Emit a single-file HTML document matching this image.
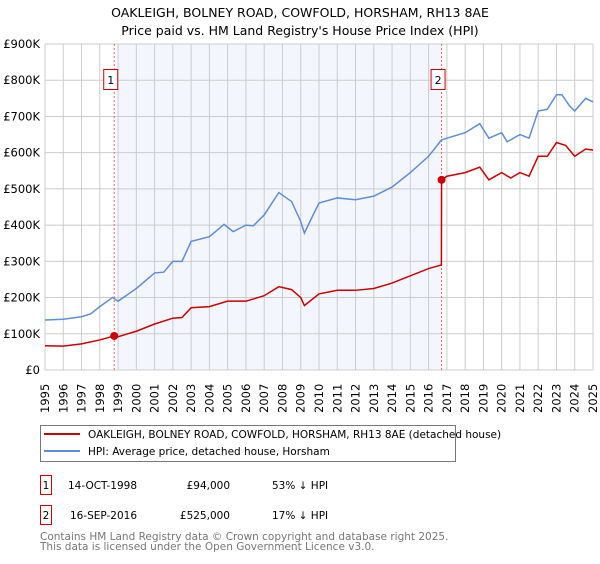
<!DOCTYPE html>
<html><head><meta charset="utf-8"><style>
body{margin:0;background:#fff;font-family:"DejaVu Sans","Liberation Sans",sans-serif;}
</style></head><body>
<svg id="chart" width="600" height="560" xmlns="http://www.w3.org/2000/svg" font-family="DejaVu Sans, Liberation Sans, sans-serif">
<text x="300" y="17" text-anchor="middle" font-size="12.5">OAKLEIGH, BOLNEY ROAD, COWFOLD, HORSHAM, RH13 8AE</text>
<text x="300" y="35" text-anchor="middle" font-size="12.5">Price paid vs. HM Land Registry's House Price Index (HPI)</text>
<g id="plot"></g>
<g>
<rect x="40.5" y="425.5" width="415" height="36" fill="#fff" stroke="#777"/>
<line x1="44" y1="434" x2="80" y2="434" stroke="#cc0000" stroke-width="2"/>
<text x="88" y="438" font-size="10.5">OAKLEIGH, BOLNEY ROAD, COWFOLD, HORSHAM, RH13 8AE (detached house)</text>
<line x1="44" y1="451" x2="80" y2="451" stroke="#5b8fd6" stroke-width="2"/>
<text x="88" y="455" font-size="10.5">HPI: Average price, detached house, Horsham</text>
</g>
<g font-size="10.5">
<rect x="40.5" y="475.5" width="11" height="19" fill="#fff" stroke="#cc0000"/>
<text x="46" y="489" text-anchor="middle">1</text>
<text x="137" y="489" text-anchor="end">14-OCT-1998</text>
<text x="230" y="489" text-anchor="end">£94,000</text>
<text x="272" y="489">53% ↓ HPI</text>
<rect x="40.5" y="505.5" width="11" height="19" fill="#fff" stroke="#cc0000"/>
<text x="46" y="519" text-anchor="middle">2</text>
<text x="137" y="519" text-anchor="end">16-SEP-2016</text>
<text x="230" y="519" text-anchor="end">£525,000</text>
<text x="272" y="519">17% ↓ HPI</text>
</g>
<g font-size="10.5" fill="#777">
<text x="40" y="540">Contains HM Land Registry data © Crown copyright and database right 2025.</text>
<text x="40" y="550">This data is licensed under the Open Government Licence v3.0.</text>
</g>
</svg>
<script>
const yTicks=[0,100000,200000,300000,400000,500000,600000,700000,800000,900000];
const yTickLabels=["£0","£100K","£200K","£300K","£400K","£500K","£600K","£700K","£800K","£900K"];
const years=[1995,1996,1997,1998,1999,2000,2001,2002,2003,2004,2005,2006,2007,2008,2009,2010,2011,2012,2013,2014,2015,2016,2017,2018,2019,2020,2021,2022,2023,2024,2025];
const hpiT=[1995,1996,1997,1997.5,1998,1998.7,1999,2000,2001,2001.5,2002,2002.5,2003,2004,2004.8,2005.3,2006,2006.4,2007,2007.8,2008.5,2009,2009.2,2009.6,2010,2011,2012,2013,2014,2015,2016,2016.7,2017,2018,2018.8,2019.3,2020,2020.3,2021,2021.5,2022,2022.5,2023,2023.3,2023.7,2024,2024.6,2025];
const hpiV=[138000,140000,147000,155000,175000,200000,190000,225000,268000,270000,300000,300000,355000,368000,402000,382000,400000,398000,428000,490000,465000,410000,378000,420000,461000,475000,470000,480000,505000,545000,590000,635000,640000,655000,680000,640000,655000,630000,650000,640000,715000,720000,760000,760000,730000,715000,750000,740000];
const ppT=[1995,1996,1997,1998,1998.79,1999,2000,2001,2002,2002.5,2003,2004,2005,2006,2007,2007.8,2008.5,2009,2009.2,2010,2011,2012,2013,2014,2015,2016,2016.7,2016.71,2017,2018,2018.8,2019.3,2020,2020.5,2021,2021.5,2022,2022.5,2023,2023.5,2024,2024.6,2025];
const ppV=[67000,66000,72000,83000,94000,92000,107000,127000,143000,145000,172000,175000,190000,190000,205000,230000,222000,200000,178000,210000,220000,220000,225000,240000,260000,280000,290000,525000,535000,545000,560000,525000,545000,530000,545000,535000,590000,590000,628000,620000,590000,610000,607000];
const sales=[{n:"1",t:1998.79,v:94000},{n:"2",t:2016.71,v:525000}];
const X0=45,X1=593,Y0=370,Y1=44;
const x=t=>X0+(t-1995)/30*(X1-X0);
const y=v=>Y0-v/900000*(Y0-Y1);
const NS="http://www.w3.org/2000/svg";
const g=document.getElementById('plot');
function el(tag,attrs,parent){const e=document.createElementNS(NS,tag);for(const k in attrs)e.setAttribute(k,attrs[k]);(parent||g).appendChild(e);return e;}
const shade=el('rect',{x:x(1999),y:Y1,width:x(sales[1].t)-x(1999),height:Y0-Y1,fill:'#f3f6fd'});


years.forEach(yr=>{
 const l=el('line',{x1:x(yr),x2:x(yr),y1:Y1,y2:Y0,stroke:'#ccc'});
 
 
 const tx=el('text',{x:0,y:0,'font-size':'11.5',transform:`translate(${x(yr)+4},${413}) rotate(-90)`});
 tx.textContent=yr;
 
 
});
yTicks.forEach((v,i)=>{
 const l=el('line',{x1:X0,x2:X1,y1:y(v),y2:y(v),stroke:'#ccc'});
 
 
 const tx=el('text',{x:40,y:y(v)+4,'text-anchor':'end','font-size':'11.5'});
 tx.textContent=yTickLabels[i];
 
 
});
sales.forEach(s=>{
 const l=el('line',{x1:x(s.t),x2:x(s.t),y1:Y1,y2:Y0,stroke:'#f06060','stroke-dasharray':'2,2'});
 
 
 const r=el('rect',{x:x(s.t)-10.5,y:69.5,width:14,height:20,fill:'#fff',stroke:'#cc0000'});
 
 
 const tx=el('text',{x:x(s.t)-3.5,y:84,'text-anchor':'middle','font-size':'11'});
 tx.textContent=s.n;
 
 
});
const hp=el('polyline',{points:hpiT.map((t,i)=>x(t)+','+y(hpiV[i])).join(' '),fill:'none',stroke:'#5b8fd6','stroke-width':'1.5'});


const pp=el('polyline',{points:ppT.map((t,i)=>x(t)+','+y(ppV[i])).join(' '),fill:'none',stroke:'#cc0000','stroke-width':'1.5'});


sales.forEach(s=>{
 const c=el('circle',{cx:x(s.t),cy:y(s.v),r:4,fill:'#cc0000'});
 
 
});
</script>
</body></html>
